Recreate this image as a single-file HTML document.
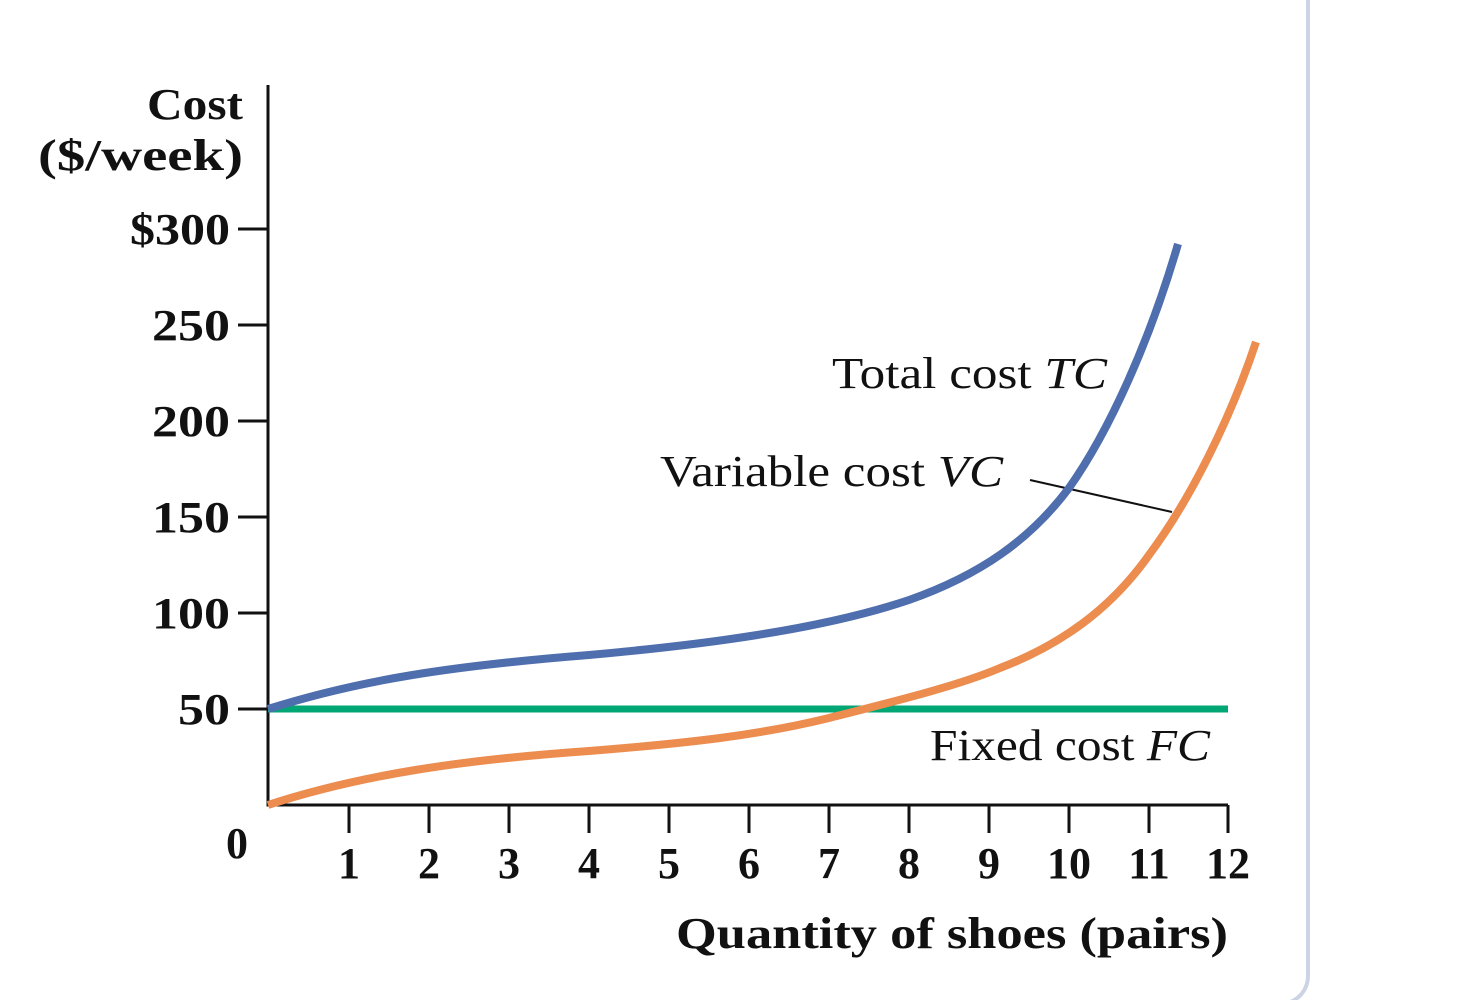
<!DOCTYPE html>
<html style="overflow:hidden"><head><style>
html,body{margin:0;width:1466px;height:1000px;overflow:hidden;}
body{background:#fff;position:relative;font-family:"Liberation Serif",serif;}
.frame{position:absolute;left:-20px;top:-20px;width:1326px;height:1022px;border-right:4px solid #ccd4e4;border-bottom:4px solid #ccd4e4;border-bottom-right-radius:30px;}
</style></head><body>
<div class="frame"></div>
<svg width="1466" height="1000" style="position:absolute;left:0;top:0" font-family="Liberation Serif, serif" fill="#111">
<g stroke="#111" stroke-width="3" fill="none">
<path d="M268 85 V805 H1228"/>
<path d="M238 229H268M238 325H268M238 421H268M238 517H268M238 613H268M238 709H268"/>
<path d="M349 805V833M429 805V833M509 805V833M589 805V833M669 805V833M749 805V833M829 805V833M909 805V833M989 805V833M1069 805V833M1149 805V833M1228 805V833"/>
<path d="M1030 480 L1172 512" stroke-width="2"/>
</g>
<line x1="268" y1="709" x2="1228" y2="709" stroke="#00a674" stroke-width="7"/>
<path d="M268 709 C360 680 450 666 589 655 C700 645 820 630 909 600 C980 575 1030 540 1069 488 C1110 430 1150 340 1178 244" stroke="#4f6eae" stroke-width="8" fill="none"/>
<path d="M268 805 C360 775 460 760 589 751 C690 743 760 735 829 718 C900 700 960 685 1000 668 C1060 645 1110 610 1149 555 C1190 500 1230 420 1256 342" stroke="#ec8c4f" stroke-width="8" fill="none"/>
<g font-size="44" font-weight="bold" text-anchor="end">
<text x="243" y="119" textLength="96" lengthAdjust="spacingAndGlyphs">Cost</text>
<text x="243" y="170" textLength="205" lengthAdjust="spacingAndGlyphs">($/week)</text>
<text x="230" y="244" textLength="100" lengthAdjust="spacingAndGlyphs">$300</text>
<text x="230" y="340" textLength="78" lengthAdjust="spacingAndGlyphs">250</text>
<text x="230" y="436" textLength="78" lengthAdjust="spacingAndGlyphs">200</text>
<text x="230" y="532" textLength="78" lengthAdjust="spacingAndGlyphs">150</text>
<text x="230" y="628" textLength="78" lengthAdjust="spacingAndGlyphs">100</text>
<text x="230" y="724" textLength="52" lengthAdjust="spacingAndGlyphs">50</text>
</g>
<g font-size="44" font-weight="bold" text-anchor="middle">
<text x="237" y="858">0</text>
<text x="349" y="878">1</text><text x="429" y="878">2</text><text x="509" y="878">3</text><text x="589" y="878">4</text><text x="669" y="878">5</text><text x="749" y="878">6</text><text x="829" y="878">7</text><text x="909" y="878">8</text><text x="989" y="878">9</text><text x="1069" y="878">10</text><text x="1149" y="878">11</text><text x="1228" y="878">12</text>
</g>
<text x="676" y="948" font-size="44" font-weight="bold" textLength="552" lengthAdjust="spacingAndGlyphs">Quantity of shoes (pairs)</text>
<text x="832" y="388" font-size="44" textLength="275" lengthAdjust="spacingAndGlyphs">Total cost <tspan font-style="italic">TC</tspan></text>
<text x="660" y="486" font-size="44" textLength="343" lengthAdjust="spacingAndGlyphs">Variable cost <tspan font-style="italic">VC</tspan></text>
<text x="930" y="760" font-size="44" textLength="280" lengthAdjust="spacingAndGlyphs">Fixed cost <tspan font-style="italic">FC</tspan></text>
</svg>
</body></html>
